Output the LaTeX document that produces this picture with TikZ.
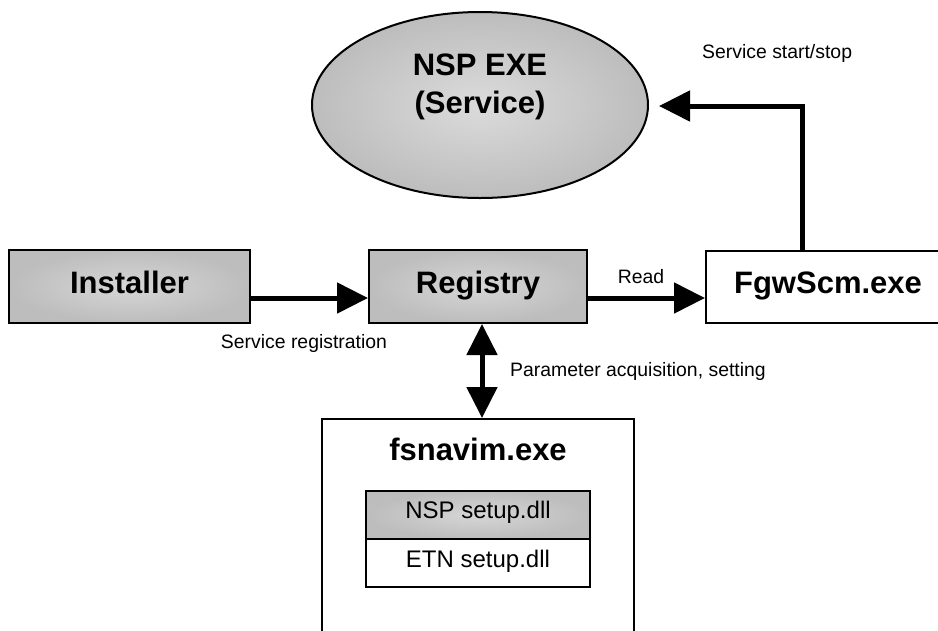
\documentclass[tikz,border=0pt]{standalone}
\usepackage{fontspec}
\setmainfont{Liberation Sans}
\usetikzlibrary{arrows.meta,shapes.geometric,calc}
\tikzset{
  graybox/.style={draw=black, line width=2pt, inner color=black!16, outer color=black!26, inner sep=0pt},
  whitebox/.style={draw=black, line width=2pt, fill=white, inner sep=0pt},
  bigtxt/.style={font=\fontsize{31}{38}\selectfont\bfseries, inner sep=0pt, align=center, anchor=base},
  smalltxt/.style={font=\fontsize{19.4}{23}\selectfont, inner sep=0pt, anchor=base},
  dlltxt/.style={font=\fontsize{24}{28}\selectfont, inner sep=0pt, anchor=base},
  flow/.style={line width=5pt, -{Triangle[length=31pt,width=30pt]}},
  flowboth/.style={line width=5pt, {Triangle[length=31pt,width=30pt]}-{Triangle[length=31pt,width=30pt]}},
}
\begin{document}
\begin{tikzpicture}[x=1pt,y=1pt]
\useasboundingbox[fill=white] (0,0) rectangle (938,-630);
% ellipse
\node[ellipse, draw=black, line width=2pt, inner color=black!14, outer color=black!26,
      minimum width=336pt, minimum height=186pt, inner sep=0pt] (nsp) at (480,-105) {};
\node[bigtxt] (nsptxt1) at (480,-75) {NSP EXE};
\node[bigtxt] (nsptxt2) at (480,-113) {(Service)};
% boxes
\node[graybox, minimum width=241pt, minimum height=73pt] (inst) at (129.5,-286.5) {};
\node[bigtxt] at (129.5,-293) {Installer};
\node[graybox, minimum width=218pt, minimum height=73pt] (reg) at (478,-286.5) {};
\node[bigtxt] at (478,-293) {Registry};
\node[whitebox, minimum width=244pt, minimum height=72pt] (fgw) at (828,-286.5) {};
\node[bigtxt] at (828,-293) {FgwScm.exe};
% fsnavim box (cut by page bottom)
\node[whitebox, line width=1.6pt, minimum width=312pt, minimum height=240pt, anchor=north] (fsn) at (478,-418) {};
\node[bigtxt] (fsntxt) at (478,-460) {fsnavim.exe};
\node[graybox, minimum width=224pt, minimum height=48pt] (nspdll) at (478,-515) {};
\node[dlltxt] at (478,-518) {NSP setup.dll};
\node[whitebox, minimum width=224pt, minimum height=48pt] (etndll) at (478,-563) {};
\node[dlltxt] at (478,-567) {ETN setup.dll};
% connectors
\draw[flow] ([yshift=-11.5pt]inst.east) -- ([yshift=-11.5pt]reg.west);
\draw[flow] ([yshift=-11.5pt]reg.east) -- ([yshift=-11.5pt]fgw.west);
\draw[flowboth] ([xshift=4pt]reg.south) -- ([xshift=4pt]fsn.north);
\coordinate (ssend) at ([xshift=10pt,yshift=-1pt]nsp.east);
\draw[flow, line join=miter] ([xshift=97pt]fgw.north west) |- (ssend);
% labels
\node[smalltxt] (lreg) at (304,-348) {Service registration};
\node[smalltxt] (lread) at (641,-283) {Read};
\node[smalltxt, anchor=base west] (lpar) at (510,-376) {Parameter acquisition, setting};
\node[smalltxt, anchor=base west] (lss) at (702,-58) {Service start/stop};
\end{tikzpicture}
\end{document}
